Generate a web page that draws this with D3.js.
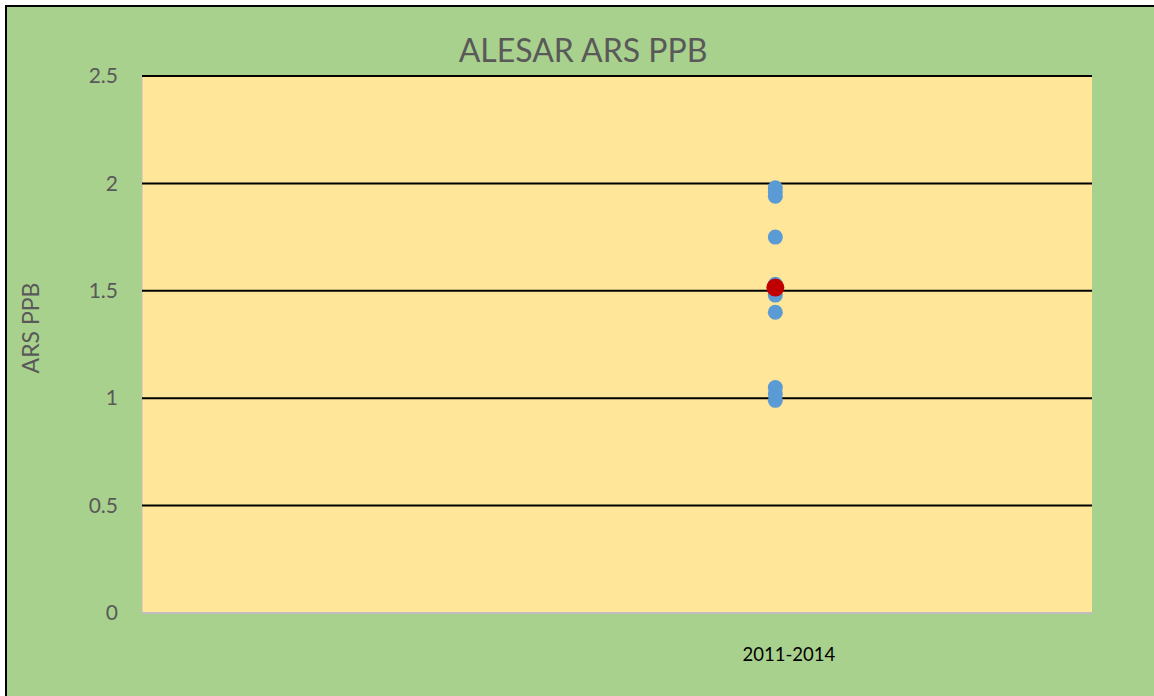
<!DOCTYPE html>
<html><head><meta charset="utf-8">
<script src="https://cdn.jsdelivr.net/npm/d3@7"></script>
<style>body{margin:0;background:#fff;overflow:hidden}svg{display:block}</style>
</head><body><svg id="c" width="1154" height="696"></svg>
<script>
const title = "ALESAR ARS PPB";
const yTitle = "ARS PPB";
const category = "2011-2014";
const categoryPos = 1;
const blueValues = [1.98, 1.96, 1.94, 1.75, 1.53, 1.48, 1.40, 1.05, 1.02, 0.99];
const redValues = [1.515];
const yTicks = [0, 0.5, 1, 1.5, 2, 2.5];

const svg = d3.select("#c");
const font = "Lato, 'Open Sans', sans-serif";
svg.append("rect").attr("x",6).attr("y",6).attr("width",1200).attr("height",760)
  .attr("fill","#a9d18e").attr("stroke","#000").attr("stroke-width",2);

const L=142,R=1092,T=76,B=613;
const x = d3.scaleLinear().domain([0,1.5]).range([L,R]);
const y = d3.scaleLinear().domain([0,2.5]).range([B,T]);

svg.append("rect").attr("x",L).attr("y",T).attr("width",R-L).attr("height",B-T).attr("fill","#ffe699");
svg.append("line").attr("x1",L).attr("x2",L).attr("y1",T).attr("y2",B).attr("stroke","#bfbfbf").attr("stroke-width",1);

const ya = svg.append("g").attr("transform",`translate(${L},0)`)
  .call(d3.axisLeft(y).tickValues(yTicks).tickSize(0).tickPadding(24).tickFormat(d=>String(d)));
ya.select(".domain").remove();
ya.selectAll("text").attr("font-family",font).attr("font-size",21).attr("fill","#595959");

svg.append("g").selectAll("line").data(yTicks.filter(d=>d>0)).join("line")
  .attr("x1",L).attr("x2",R).attr("y1",d=>y(d)).attr("y2",d=>y(d))
  .attr("stroke","#000").attr("stroke-width",2);
svg.append("line").attr("x1",L).attr("x2",R).attr("y1",y(0)).attr("y2",y(0)).attr("stroke","#bfbfbf").attr("stroke-width",2);

const xa = svg.append("g").attr("transform",`translate(0,${B})`)
  .call(d3.axisBottom(x).tickValues([categoryPos]).tickSize(0).tickPadding(35).tickFormat(()=>category));
xa.select(".domain").remove();
xa.selectAll("text").attr("font-family",font).attr("font-size",18.5).attr("fill","#000").attr("dx",13);

svg.append("g").selectAll("circle").data(blueValues).join("circle")
  .attr("cx",x(categoryPos)).attr("cy",d=>y(d)).attr("r",7.5).attr("fill","#5b9bd5");
svg.append("g").selectAll("circle").data(redValues).join("circle")
  .attr("cx",x(categoryPos)).attr("cy",d=>y(d)).attr("r",9).attr("fill","#c00000");

svg.append("text").attr("x",583).attr("y",62).attr("text-anchor","middle")
  .attr("font-family",font).attr("font-size",32).attr("fill","#595959").text(title);
svg.append("text").attr("transform",`translate(39,328) rotate(-90)`).attr("text-anchor","middle")
  .attr("font-family",font).attr("font-size",23).attr("fill","#595959").text(yTitle);
</script></body></html>
